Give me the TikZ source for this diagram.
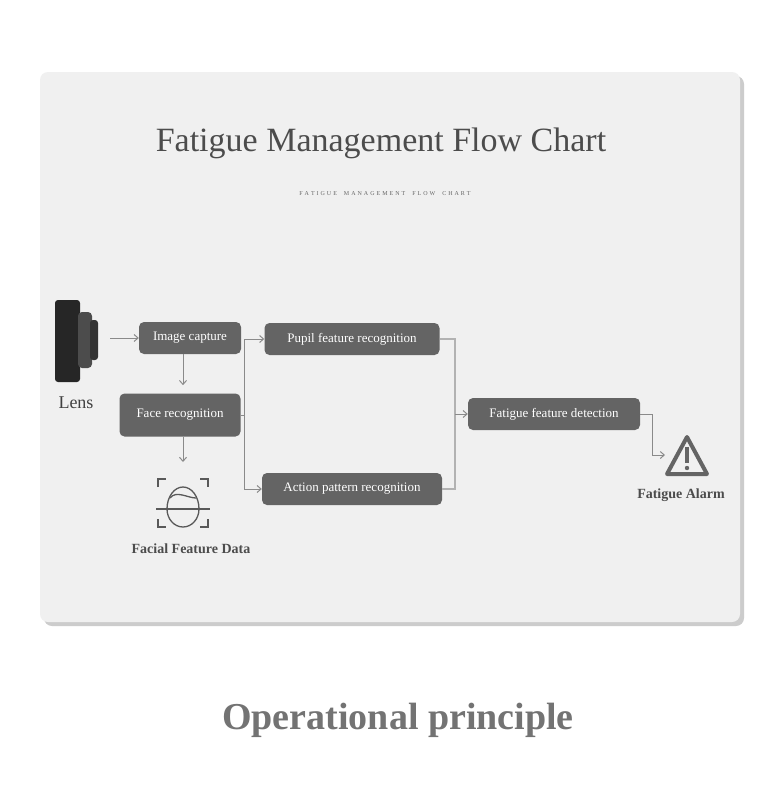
\documentclass[tikz,border=0pt]{standalone}
\usepackage{fontspec}
\setmainfont{Liberation Serif}
\usetikzlibrary{positioning, arrows.meta}
\definecolor{boxgray}{HTML}{646464}
\definecolor{cardgray}{HTML}{F0F0F0}
\definecolor{linegray}{HTML}{8A8A8A}
\tikzset{stage/.style={draw=none,fill=boxgray,rounded corners=5pt,text=white,minimum height=32pt,inner xsep=5pt,font=\fontsize{13}{15}\selectfont},
         link/.style={draw=linegray,line width=1pt,-{Straight Barb[length=4pt,width=7pt]}},
         brace/.style={draw=black!30,line width=2pt},
         caption/.style={text=black!70,font=\fontsize{14}{16}\selectfont\bfseries},
        }
\begin{document}
\begin{tikzpicture}[x=1pt,y=-1pt]
    \useasboundingbox (0,0) rectangle (783,807);
    \fill[white] (0,0) rectangle (783,807);
    \fill[black!20,rounded corners=8pt] (44,76) rectangle (744,626);
    \fill[cardgray,rounded corners=8pt] (40,72) rectangle (740,622);

    \node[text=black!70,font=\fontsize{34}{38}\selectfont](title)at(381,143){Fatigue Management Flow Chart};
    \node[text=black!60,font=\fontsize{6}{7}\selectfont](sub)at(385,194){F\,\,A\,\,T\,\,I\,\,G\,\,U\,\,E\quad\,M\,\,A\,\,N\,\,A\,\,G\,\,E\,\,M\,\,E\,\,N\,\,T\quad\,F\,\,L\,\,O\,\,W\quad\,C\,\,H\,\,A\,\,R\,\,T};

    % lens
    \fill[black!85,rounded corners=3pt] (55,300) rectangle (80,382);
    \fill[black!70,rounded corners=4pt] (78,312) rectangle (92,368);
    \fill[black!80,rounded corners=3pt] (90,320) rectangle (98,360);
    \coordinate (lens) at (110,338);
    \node[text=black!75,font=\fontsize{18}{20}\selectfont](lenstext)at(76,403){Lens};

    \node[stage,minimum width=102pt](capture)at(190,338){Image capture};
    \node[stage,minimum width=121pt,minimum height=43pt](face)at(180,415){Face recognition};
    \node[stage,minimum width=175pt](pupil)at(352,339){Pupil feature recognition};
    \node[stage,minimum width=180pt](action)at(352,489){Action pattern recognition};
    \node[stage,minimum width=172pt](detect)at(554,414){Fatigue feature detection};

    % face icon
    \begin{scope}[draw=black!65,line width=1.3pt]
        \draw (158,487)--(158,479)--(166,479) (200,479)--(208,479)--(208,487)
              (158,519)--(158,527)--(166,527) (200,527)--(208,527)--(208,519);
        \draw (167,509) arc[start angle=180,end angle=360,x radius=16,y radius=-18];
        \draw (167,509) arc[start angle=180,end angle=0,x radius=16,y radius=-22];
        \draw (170,498) .. controls (176,490) and (188,498) .. (196,498);
        \draw (156,509)--(210,509);
    \end{scope}
    \coordinate (icon) at (183,462);
    \node[caption](facetext)at(191,549){Facial Feature Data};

    % alarm
    \coordinate (alarm) at (665,455);
    \draw[boxgray,line width=4pt,line join=round] (687,437)--(707,474)--(667,474)--cycle;
    \fill[boxgray] (685,447) rectangle (689,463);
    \fill[boxgray] (687,468) circle (2.2pt);
    \node[caption](alarmtext)at(681,495){Fatigue Alarm};

    \draw[link](lens)--(capture.west);
    \draw[link](capture.south -| face.south)++(3,0)--++(0,31);
    \draw[link](face.south)++(3,0)--(icon);
    \draw[link](face.east)-|(244,339)--(pupil.west);
    \draw[link](face.east)-|(244,489)--(action.west);
    \draw[brace](pupil.east)-|(455,414);
    \draw[brace](action.east)-|(455,414);
    \draw[link](455,414)--(detect.west);
    \draw[link](detect.east)-|(652,455)--(alarm);

    \node[text=black!55,font=\fontsize{38}{42}\selectfont\bfseries](principle)at(398,720){Operational principle};
\end{tikzpicture}
\end{document}
